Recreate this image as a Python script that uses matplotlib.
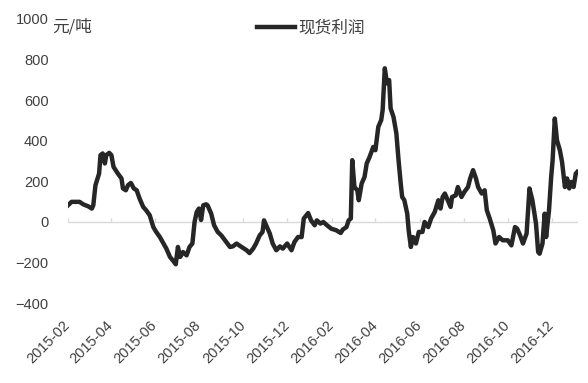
import matplotlib
matplotlib.use("Agg")
import matplotlib.pyplot as plt
import pandas as pd

plt.rcParams['font.family'] = ['Liberation Sans', 'Noto Sans CJK SC']

# spot profit, yuan per tonne
dates = [
    "2015-02-01", "2015-02-06", "2015-02-17", "2015-02-22", "2015-03-01", "2015-03-06",
    "2015-03-08", "2015-03-11", "2015-03-16", "2015-03-18", "2015-03-21", "2015-03-24",
    "2015-03-26", "2015-03-30", "2015-04-02", "2015-04-05", "2015-04-11", "2015-04-16",
    "2015-04-18", "2015-04-22", "2015-04-25", "2015-04-29", "2015-05-03", "2015-05-07",
    "2015-05-11", "2015-05-16", "2015-05-20", "2015-05-25", "2015-05-30", "2015-06-03",
    "2015-06-08", "2015-06-12", "2015-06-17", "2015-06-22", "2015-06-26", "2015-06-30",
    "2015-07-03", "2015-07-06", "2015-07-10", "2015-07-15", "2015-07-19", "2015-07-23",
    "2015-07-26", "2015-07-29", "2015-08-01", "2015-08-04", "2015-08-07", "2015-08-11",
    "2015-08-13", "2015-08-18", "2015-08-22", "2015-08-27", "2015-09-01", "2015-09-06",
    "2015-09-13", "2015-09-17", "2015-09-22", "2015-09-29", "2015-10-06", "2015-10-10",
    "2015-10-15", "2015-10-19", "2015-10-24", "2015-10-28", "2015-10-30", "2015-11-02",
    "2015-11-07", "2015-11-11", "2015-11-16", "2015-11-21", "2015-11-25", "2015-12-01",
    "2015-12-07", "2015-12-11", "2015-12-16", "2015-12-21", "2015-12-24", "2015-12-30",
    "2016-01-03", "2016-01-08", "2016-01-11", "2016-01-16", "2016-01-20", "2016-01-25",
    "2016-01-31", "2016-02-07", "2016-02-13", "2016-02-16", "2016-02-21", "2016-02-24",
    "2016-02-27", "2016-02-29", "2016-03-03", "2016-03-07", "2016-03-09", "2016-03-13",
    "2016-03-17", "2016-03-20", "2016-03-24", "2016-03-29", "2016-04-01", "2016-04-05",
    "2016-04-09", "2016-04-11", "2016-04-14", "2016-04-17", "2016-04-20", "2016-04-22",
    "2016-04-26", "2016-04-30", "2016-05-03", "2016-05-06", "2016-05-08", "2016-05-11",
    "2016-05-15", "2016-05-17", "2016-05-20", "2016-05-23", "2016-05-27", "2016-05-31",
    "2016-06-05", "2016-06-08", "2016-06-13", "2016-06-17", "2016-06-22", "2016-06-27",
    "2016-06-30", "2016-07-03", "2016-07-06", "2016-07-10", "2016-07-14", "2016-07-16",
    "2016-07-21", "2016-07-24", "2016-07-29", "2016-08-02", "2016-08-07", "2016-08-10",
    "2016-08-14", "2016-08-18", "2016-08-21", "2016-08-26", "2016-08-30", "2016-09-02",
    "2016-09-06", "2016-09-11", "2016-09-14", "2016-09-19", "2016-09-24", "2016-10-01",
    "2016-10-06", "2016-10-11", "2016-10-14", "2016-10-18", "2016-10-22", "2016-10-27",
    "2016-10-31", "2016-11-04", "2016-11-09", "2016-11-12", "2016-11-14", "2016-11-18",
    "2016-11-21", "2016-11-23", "2016-11-27", "2016-11-30", "2016-12-02", "2016-12-05",
    "2016-12-08", "2016-12-12", "2016-12-15", "2016-12-19", "2016-12-22", "2016-12-25",
    "2016-12-28", "2016-12-31", "2017-01-03", "2017-01-05",
]
profit = [
    82, 99, 99, 87, 77, 66,
    82, 181, 238, 329, 337, 288,
    329, 340, 329, 271, 238, 214,
    165, 156, 181, 192, 165, 156,
    115, 74, 58, 33, -25, -49,
    -74, -99, -131, -172, -189, -208,
    -123, -172, -148, -164, -123, -106,
    0, 49, 66, 10, 82, 87,
    82, 41, -16, -49, -66, -90,
    -123, -120, -106, -123, -139, -153,
    -131, -106, -66, -49, 8, -16,
    -57, -106, -139, -120, -131, -106,
    -139, -99, -74, -74, 17, 44,
    8, -16, 8, -8, 0, -16,
    -33, -41, -54, -37, -25, 8,
    17, 304, 172, 156, 107, 189,
    222, 288, 320, 369, 353, 468,
    501, 550, 756, 682, 698, 559,
    517, 435, 304, 189, 123, 107,
    41, -41, -123, -74, -106, -49,
    -49, 0, -25, 17, 49, 107,
    66, 123, 140, 107, 74, 123,
    131, 172, 123, 148, 172, 214,
    255, 214, 172, 140, 156, 58,
    17, -41, -106, -74, -90, -90,
    -115, -25, -33, -66, -106, -57,
    165, 107, -8, -148, -156, -106,
    41, -74, 58, 222, 304, 509,
    402, 353, 296, 172, 214, 165,
    197, 172, 238, 246,
]
tick_dates = ["2015-02-01", "2015-04-01", "2015-06-01", "2015-08-01", "2015-10-01",
              "2015-12-01", "2016-02-01", "2016-04-01", "2016-06-01", "2016-08-01",
              "2016-10-01", "2016-12-01"]
tick_labels = ["2015-02", "2015-04", "2015-06", "2015-08", "2015-10", "2015-12",
               "2016-02", "2016-04", "2016-06", "2016-08", "2016-10", "2016-12"]
y_ticks = [-400, -200, 0, 200, 400, 600, 800, 1000]

x = pd.to_datetime(dates)
xt = pd.to_datetime(tick_dates)

fig = plt.figure(figsize=(5.88, 3.83), dpi=100)
ax = fig.add_axes([0.1156, 0.2081, 0.8673, 0.7431])

# zero line with small upward tick marks, like the original
ax.axhline(0, color="#d9d9d9", lw=1, zorder=1)
ax.vlines(xt, 0, 20, color="#d9d9d9", lw=1, zorder=1)
ax.plot(x, profit, color="#262626", lw=3.2, solid_joinstyle="round", zorder=3,
        label="现货利润")

ax.set_xlim(pd.Timestamp("2015-02-01"), pd.Timestamp("2017-01-06"))
ax.set_ylim(-400, 1000)
ax.set_yticks(y_ticks)
ax.set_xticks(xt)
ax.set_xticklabels(tick_labels, rotation=45, ha="right", va="center",
                   rotation_mode="anchor")
ax.tick_params(axis="x", length=0, pad=14, labelsize=10.5, labelcolor="#404040")
ax.tick_params(axis="y", length=0, pad=14, labelsize=10.5, labelcolor="#404040")
for s in ax.spines.values():
    s.set_visible(False)

fig.text(0.088, 0.93, "元/吨", fontsize=12, color="#404040", va="center",
         family=["Noto Sans CJK SC"])
ax.legend(loc="center", bbox_to_anchor=(0.529, 0.927), bbox_transform=fig.transFigure,
          frameon=False, fontsize=12, handlelength=2.3, handletextpad=0.2,
          labelcolor="#404040")

fig.savefig("out.png", dpi=100)
